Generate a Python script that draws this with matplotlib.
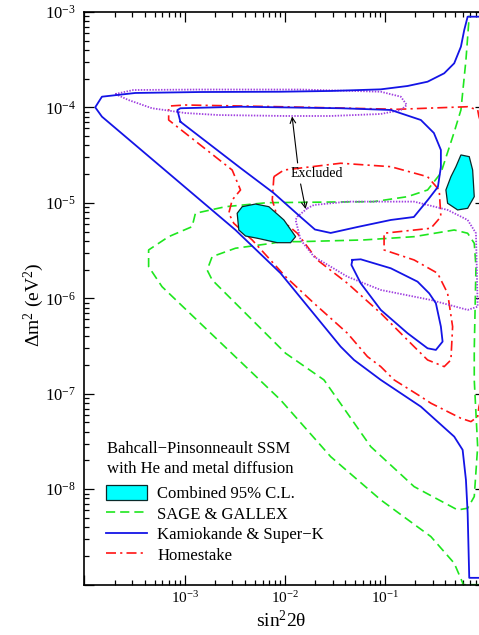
import numpy as np
import matplotlib
matplotlib.use("Agg")
import matplotlib.pyplot as plt
from matplotlib.lines import Line2D
from matplotlib.patches import Patch

plt.rcParams["font.family"] = ["Liberation Serif", "DejaVu Serif"]
plt.rcParams["mathtext.fontset"] = "custom"
plt.rcParams["mathtext.rm"] = "Liberation Serif"
plt.rcParams["mathtext.it"] = "Liberation Serif:italic"

# contours, in log10(sin^2 2theta), log10(dm^2 / eV^2)

# Kamiokande & Super-K
kam_outer_x = [0.0, -0.176, -0.21, -0.243, -0.31, -0.41, -0.576, -0.776, -1.043, -1.543,
               -2.043, -2.843, -3.493, -3.826, -3.893, -3.826, -2.493, -2.043, -1.443,
               -1.31, -1.043, -0.643, -0.31, -0.226, -0.193, -0.176, -0.16, 0.0]
kam_outer_y = [-3.051, -3.051, -3.191, -3.365, -3.539, -3.644, -3.732, -3.777, -3.812, -3.829,
               -3.837, -3.840, -3.850, -3.889, -4.0, -4.098, -5.285, -5.738, -6.507,
               -6.646, -6.855, -7.135, -7.449, -7.588, -7.902, -8.248, -8.928, -8.928]
kam_inner_x = [-3.043, -3.073, -3.043, -2.443, -1.443, -0.943, -0.643, -0.513, -0.443, -0.443,
               -0.473, -0.573, -0.713, -0.943, -1.273, -1.543, -1.70, -1.843, -2.113, -2.443]
kam_inner_y = [-4.151, -4.029, -4.010, -3.994, -4.010, -4.028, -4.133, -4.269, -4.447, -4.625,
               -4.834, -4.970, -5.149, -5.180, -5.253, -5.316, -5.28, -5.149, -4.897, -4.636]
kam_small_x = [-1.326, -1.243, -0.943, -0.676, -0.56, -0.493, -0.443, -0.426, -0.493, -0.576,
               -0.776, -1.043, -1.243, -1.336]
kam_small_y = [-5.598, -5.592, -5.686, -5.826, -5.948, -6.052, -6.297, -6.454, -6.541, -6.524,
               -6.366, -6.122, -5.843, -5.651]

# excluded regions (dotted)
excl_top_x = [-3.693, -3.513, -2.843, -1.843, -1.043, -0.843, -0.783, -0.843, -1.043, -1.543,
              -1.993, -2.663, -2.993, -3.326, -3.563]
excl_top_y = [-3.861, -3.819, -3.814, -3.814, -3.837, -3.889, -3.976, -4.029, -4.070, -4.091,
              -4.091, -4.081, -4.060, -4.010, -3.923]
excl_low_x = [-1.776, -1.71, -1.376, -0.71, -0.376, -0.176, -0.093, -0.076, -0.176, -0.543,
              -1.043, -1.376, -1.71, -1.843, -1.893, -1.876]
excl_low_y = [-5.058, -5.023, -4.988, -4.988, -5.075, -5.180, -5.319, -6.088, -6.122, -6.018,
              -5.913, -5.774, -5.564, -5.389, -5.180, -5.146]

# Homestake
home_outer_x = [0.0, -0.063, -0.076, -0.176, -0.876, -2.043, -2.993, -3.143, -3.16, -3.16,
                -3.076, -2.526, -2.443, -2.526, -2.56, -2.51, -2.326, -1.993, -1.71, -1.376,
                -1.176, -1.043, -0.91, -0.643, -0.543, -0.243, -0.143, -0.076, -0.063, 0.0]
home_outer_y = [-4.30, -4.098, -4.028, -3.994, -4.021, -3.994, -3.976, -3.986, -4.010, -4.133,
                -4.203, -4.657, -4.866, -4.971, -5.110, -5.215, -5.390, -5.774, -6.052, -6.366,
                -6.611, -6.716, -6.855, -7.030, -7.099, -7.257, -7.292, -7.240, -7.135, -6.90]
home_mid_x = [-2.11, -2.01, -1.443, -0.943, -0.576, -0.46, -0.443, -0.543, -1.01, -1.01,
              -0.71, -0.476, -0.376, -0.326, -0.343, -0.41, -0.576, -0.71, -1.043, -1.376,
              -1.676, -1.876, -2.076, -2.126]
home_mid_y = [-4.727, -4.657, -4.586, -4.622, -4.727, -4.866, -5.146, -5.267, -5.319, -5.494,
              -5.599, -5.738, -5.948, -6.297, -6.646, -6.716, -6.646, -6.507, -6.157, -5.843,
              -5.599, -5.319, -5.146, -4.971]

# SAGE & GALLEX
gal_outer_x = [0.0, -0.226, -0.226, -0.31, -0.543, -1.043, -1.543, -2.043, -3.226, -3.36,
               -3.36, -3.16, -2.926, -2.893, -2.593, -2.176, -1.113, -0.776, -0.576, -0.443,
               -0.313, -0.243, -0.193, -0.16]
gal_outer_y = [-9.0, -9.0, -8.98, -8.775, -8.496, -8.112, -7.659, -7.065, -5.879, -5.669,
               -5.494, -5.355, -5.250, -5.110, -5.041, -4.999, -4.988, -4.936, -4.866, -4.688,
               -4.269, -4.028, -3.505, -3.04]
gal_inner_x = [-2.043, -2.126, -2.493, -2.726, -2.776, -2.726, -1.993, -1.61, -1.143, -0.71,
               -0.276, -0.176, -0.11, -0.076, -0.11, -0.11, -0.093, -0.11, -0.176, -0.31,
               -0.71, -1.21, -1.843]
gal_inner_y = [-5.407, -5.424, -5.476, -5.564, -5.704, -5.808, -6.576, -6.855, -7.554, -7.973,
               -8.217, -8.199, -8.077, -7.554, -6.855, -6.541, -5.669, -5.424, -5.319, -5.285,
               -5.355, -5.389, -5.407]

# combined 95% C.L. islands
comb_small_x = [-2.476, -2.426, -2.293, -2.16, -2.01, -1.893, -1.943, -2.076, -2.273, -2.393,
                -2.46]
comb_small_y = [-5.110, -5.041, -5.013, -5.041, -5.180, -5.355, -5.418, -5.418, -5.372, -5.348,
                -5.285]
comb_large_x = [-0.243, -0.16, -0.126, -0.11, -0.176, -0.276, -0.376, -0.393, -0.343, -0.293]
comb_large_y = [-4.499, -4.517, -4.657, -4.936, -5.058, -5.075, -5.005, -4.866, -4.727, -4.622]

BLUE = "#1414e6"
GREEN = "#1ee61e"
RED = "#ff1414"
PURPLE = "#a040e0"
CYAN = "#00ffff"


def closed(a):
    return list(a) + [a[0]]


def pw(a):
    return 10.0 ** np.asarray(a)


fig = plt.figure(figsize=(4.79, 6.35), dpi=100)
ax = fig.add_axes([0.1764, 0.0792, 0.8367, 0.9022])
ax.set_xscale("log")
ax.set_yscale("log")

# green dashed
for xs, ys, cl in [(gal_outer_x, gal_outer_y, False), (gal_inner_x, gal_inner_y, True)]:
    if cl:
        xs, ys = closed(xs), closed(ys)
    ax.plot(pw(xs), pw(ys), color=GREEN, lw=1.2, dashes=(5.5, 3), zorder=2)

# red dash-dot
ax.plot(pw(home_outer_x), pw(home_outer_y), color=RED, lw=1.2, dashes=(6, 2.5, 1.3, 2.5), zorder=2)
ax.plot(pw(closed(home_mid_x)), pw(closed(home_mid_y)), color=RED, lw=1.2,
        dashes=(6, 2.5, 1.3, 2.5), zorder=2)

# purple dotted
for xs, ys in [(excl_top_x, excl_top_y), (excl_low_x, excl_low_y)]:
    ax.plot(pw(closed(xs)), pw(closed(ys)), color=PURPLE, lw=1.3, dashes=(0.8, 0.8), zorder=2)

# cyan islands
for xs, ys in [(comb_small_x, comb_small_y), (comb_large_x, comb_large_y)]:
    ax.fill(pw(xs), pw(ys), facecolor=CYAN, edgecolor="#0a2a2a", lw=0.9, zorder=3)

# blue solid
ax.plot(pw(kam_outer_x), pw(kam_outer_y), color=BLUE, lw=1.3, zorder=4)
ax.plot(pw(closed(kam_inner_x)), pw(closed(kam_inner_y)), color=BLUE, lw=1.3, zorder=4)
ax.plot(pw(closed(kam_small_x)), pw(closed(kam_small_y)), color=BLUE, lw=1.3, zorder=4)

# "Excluded" label with arrows
ax.text(10 ** -1.943, 10 ** -4.698, "Excluded", fontsize=10, ha="left", va="center", zorder=5)
ax.annotate("", xy=(10 ** -1.928, 10 ** -4.096), xytext=(10 ** -1.873, 10 ** -4.583),
            arrowprops=dict(arrowstyle="->", color="black", lw=0.8, shrinkA=0, shrinkB=0))
ax.annotate("", xy=(10 ** -1.793, 10 ** -5.065), xytext=(10 ** -1.843, 10 ** -4.803),
            arrowprops=dict(arrowstyle="->", color="black", lw=0.8, shrinkA=0, shrinkB=0))

ax.set_xlim(1e-4, 1.0)
ax.set_ylim(1e-9, 1e-3)

ax.set_xticks([1e-4, 1e-3, 1e-2, 1e-1])
ax.set_xticklabels(["", r"$10^{-3}$", r"$10^{-2}$", r"$10^{-1}$"])
ax.set_yticks([1e-9, 1e-8, 1e-7, 1e-6, 1e-5, 1e-4, 1e-3])
ax.set_yticklabels(["", r"$10^{-8}$", r"$10^{-7}$", r"$10^{-6}$", r"$10^{-5}$",
                    r"$10^{-4}$", r"$10^{-3}$"])
ax.tick_params(which="both", direction="in", top=True, right=True, width=0.9)
ax.tick_params(which="major", length=7)
ax.tick_params(which="minor", length=3.5)
ax.tick_params(axis="y", pad=6, labelsize=12)
ax.tick_params(axis="x", pad=4, labelsize=11)
for s in ax.spines.values():
    s.set_linewidth(1.2)

ax.set_xlabel("sin$^2$2θ", fontsize=14)
ax.xaxis.set_label_coords(0.49, -0.063)
ax.xaxis.label.set_va("center")
ax.set_ylabel(r"Δm$^2$ (eV$^2$)", fontsize=14)
ax.yaxis.set_label_coords(-0.127, 0.489)
ax.yaxis.label.set_va("center")

# legend: heading text, then the four entries
ax.text(0.055, 0.251, "Bahcall−Pinsonneault SSM\nwith He and metal diffusion",
        transform=ax.transAxes, fontsize=12, ha="left", va="top", linespacing=1.35)
handles = [
    Patch(facecolor=CYAN, edgecolor="#0a2a2a", lw=0.9, label="Combined 95% C.L."),
    Line2D([], [], color=GREEN, lw=1.2, dashes=(5.5, 3), label="SAGE & GALLEX"),
    Line2D([], [], color=BLUE, lw=1.3, label="Kamiokande & Super−K"),
    Line2D([], [], color=RED, lw=1.2, dashes=(6, 2.5, 1.3, 2.5), label="Homestake"),
]
ax.legend(handles=handles, loc="upper left", bbox_to_anchor=(0.053, 0.174),
          frameon=False, fontsize=12, borderpad=0, borderaxespad=0,
          handlelength=2.5, handleheight=1.0, handletextpad=0.6, labelspacing=0.2)

fig.savefig("out.png", dpi=100)
